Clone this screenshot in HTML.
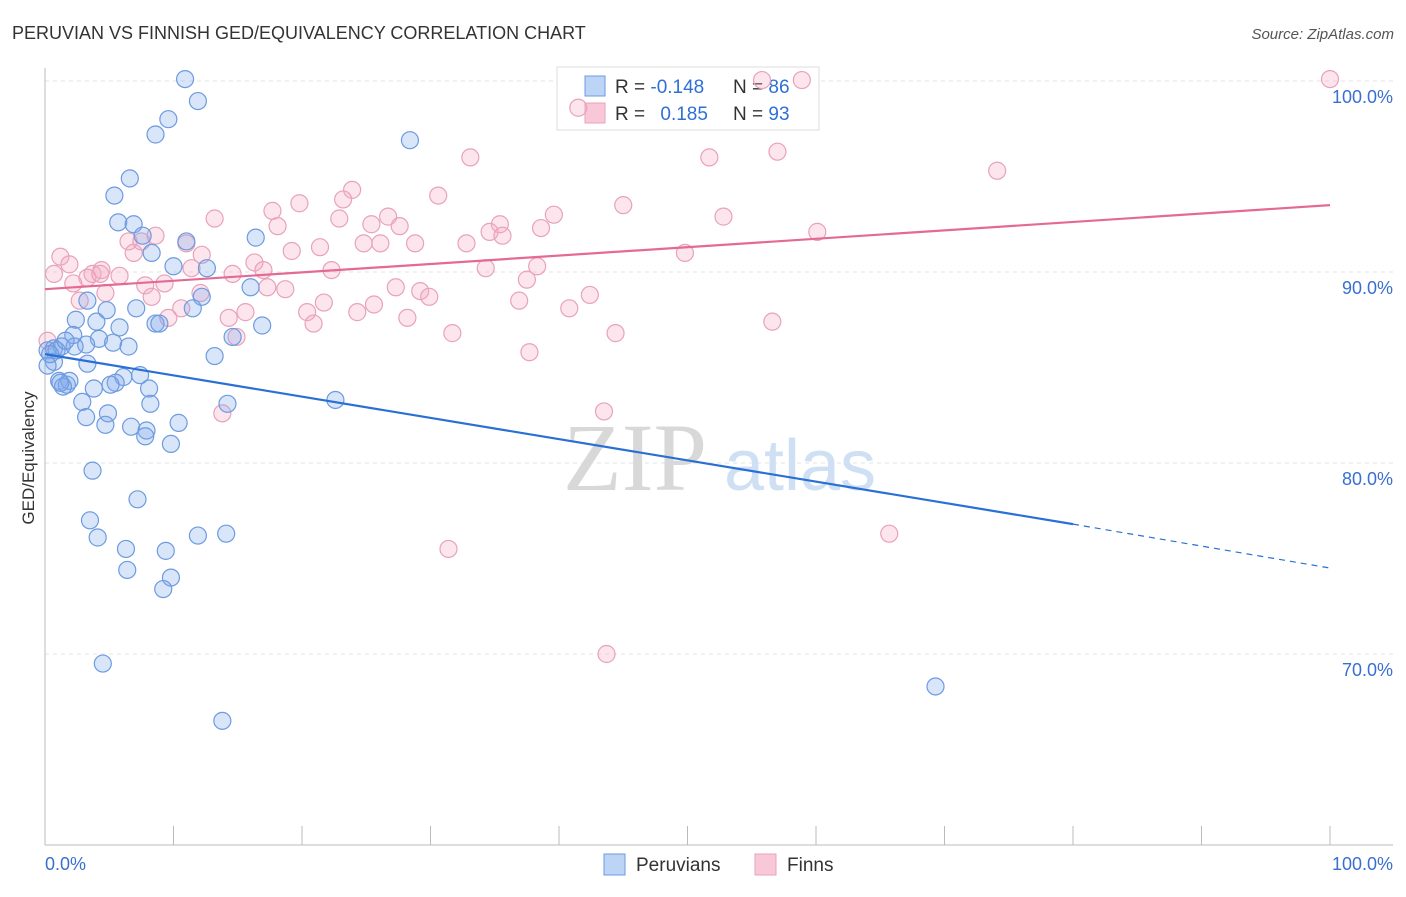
<!DOCTYPE html>
<html><head><meta charset="utf-8"><style>
body{margin:0;background:#fff;font-family:"Liberation Sans",sans-serif}
svg text{font-family:"Liberation Sans",sans-serif}
</style></head><body>
<svg width="1406" height="892" viewBox="0 0 1406 892">
<text x="12" y="39" font-size="18" fill="#333">PERUVIAN VS FINNISH GED/EQUIVALENCY CORRELATION CHART</text>
<text x="1394" y="39" font-size="15" fill="#555" text-anchor="end" font-style="italic">Source: ZipAtlas.com</text>
<g id="grid"></g>
<text x="635" y="490" font-size="96" fill="#d8d8d8" text-anchor="middle" font-family="Liberation Serif" style="font-family:'Liberation Serif',serif">ZIP</text>
<text x="800" y="490" font-size="72" fill="#cfe0f4" text-anchor="middle">atlas</text>
<g id="axes"></g>
<g>
<rect x="557" y="67" width="262" height="63" fill="#fff" stroke="#ddd"/>
<rect x="585" y="76" width="20" height="20" fill="#bcd4f6" stroke="#6d9be0"/>
<rect x="585" y="103" width="20" height="20" fill="#f9c8d8" stroke="#e9a0b8"/>
<text x="615" y="93" font-size="19" fill="#333">R = <tspan fill="#2f6fd6">-0.148</tspan></text>
<text x="733" y="93" font-size="19" fill="#333">N = <tspan fill="#2f6fd6">86</tspan></text>
<text x="615" y="120" font-size="19" fill="#333">R = <tspan fill="#2f6fd6" dx="10">0.185</tspan></text>
<text x="733" y="120" font-size="19" fill="#333">N = <tspan fill="#2f6fd6">93</tspan></text>
</g>
<g id="pts"></g>
<g id="trend"></g>
<text transform="translate(34,458) rotate(-90)" font-size="17" fill="#333" text-anchor="middle">GED/Equivalency</text>
<text x="45" y="870" font-size="18" fill="#3a6fd0">0.0%</text>
<text x="1393" y="870" font-size="18" fill="#3a6fd0" text-anchor="end">100.0%</text>
<g>
<rect x="604" y="854" width="21" height="21" fill="#bcd4f6" stroke="#6d9be0"/>
<text x="636" y="871" font-size="19" fill="#333">Peruvians</text>
<rect x="755" y="854" width="21" height="21" fill="#f9c8d8" stroke="#e9a0b8"/>
<text x="787" y="871" font-size="19" fill="#333">Finns</text>
</g>
</svg>
<script>
const yTicks=[100,90,80,70];
const yTickLabels=["100.0%","90.0%","80.0%","70.0%"];
const xTicks=[0,10,20,30,40,50,60,70,80,90,100];
const peruX=[10.9,11.9,9.6,8.6,28.4,6.6,5.4,5.7,6.9,7.6,16.4,11.0,8.3,10.0,12.6,16.0,12.2,3.3,7.1,4.8,11.5,2.4,4.0,8.6,8.9,5.8,16.9,2.2,14.6,4.2,3.2,5.3,6.5,0.7,1.3,0.2,13.2,0.7,3.3,0.2,6.1,7.4,5.5,5.1,1.1,1.7,1.9,1.4,3.8,8.1,22.6,2.9,8.2,4.9,3.2,10.4,14.2,6.7,4.7,7.9,7.8,9.8,3.7,7.2,3.5,4.1,6.3,11.9,14.1,9.4,6.4,9.8,9.2,4.5,13.8,69.3,0.9,0.4,2.3,1.6,1.2];
const peruY=[100.1,98.95,98.0,97.2,96.9,94.9,94.0,92.6,92.5,91.9,91.8,91.6,91.0,90.3,90.2,89.2,88.7,88.5,88.1,88.0,88.1,87.5,87.4,87.3,87.3,87.1,87.2,86.7,86.6,86.5,86.2,86.3,86.1,86.0,86.1,85.9,85.6,85.3,85.2,85.1,84.5,84.6,84.2,84.1,84.3,84.1,84.3,84.0,83.9,83.9,83.3,83.2,83.1,82.6,82.4,82.1,83.1,81.9,82.0,81.7,81.4,81.0,79.6,78.1,77.0,76.1,75.5,76.2,76.3,75.4,74.4,74.0,73.4,69.5,66.5,68.3,85.9,85.7,86.1,86.4,84.2];
const finnX=[58.9,55.8,100,41.5,33.1,51.7,57.0,74.1,23.9,30.6,23.2,19.8,45.0,17.7,39.6,13.2,26.7,22.9,25.4,27.6,35.4,52.8,38.6,60.1,18.1,34.6,8.6,6.5,35.6,11.0,32.8,28.8,24.8,26.1,19.2,21.4,6.9,12.2,1.2,49.8,1.9,16.3,38.3,17.0,11.4,34.3,14.6,0.7,3.7,4.4,5.8,22.3,3.3,37.5,2.2,9.3,18.7,17.3,27.3,7.8,29.2,29.9,4.7,12.1,42.4,8.3,2.7,21.7,36.9,40.8,25.6,20.4,24.3,10.6,28.2,9.6,20.9,14.3,15.6,56.6,44.4,31.7,14.9,0.2,37.7,43.5,13.8,31.4,65.7,43.7,4.3,7.5];
const finnY=[100.05,100.05,100.1,98.6,96.0,96.0,96.3,95.3,94.3,94.0,93.8,93.6,93.5,93.2,93.0,92.8,92.9,92.8,92.5,92.4,92.5,92.9,92.3,92.1,92.4,92.1,91.9,91.6,91.9,91.5,91.5,91.5,91.5,91.5,91.1,91.3,91.0,90.9,90.8,91.0,90.4,90.5,90.3,90.1,90.2,90.2,89.9,89.9,89.9,90.1,89.8,90.1,89.7,89.6,89.4,89.4,89.1,89.2,89.2,89.3,89.0,88.7,88.9,88.9,88.8,88.7,88.5,88.4,88.5,88.1,88.3,87.9,87.9,88.1,87.6,87.6,87.3,87.6,87.9,87.4,86.8,86.8,86.6,86.4,85.8,82.7,82.6,75.5,76.3,70.0,89.9,91.6];
const peruTrend=[[0,85.7],[80,76.8],[100,74.5]];
const finnTrend=[[0,89.1],[100,93.5]];
const NS="http://www.w3.org/2000/svg";
const sx=v=>45+v*12.85;
const sy=v=>81+(100-v)*19.1;
function mk(t,a,p){const e=document.createElementNS(NS,t);for(const k in a)e.setAttribute(k,a[k]);p.appendChild(e);return e;}
const grid=document.getElementById('grid');
yTicks.forEach((t,i)=>{
 const l=mk('line',{x1:45,x2:1393,y1:sy(t),y2:sy(t),stroke:'#e3e3e3','stroke-dasharray':'4,4'},grid);
 
 
 const tx=mk('text',{x:1393,y:sy(t)+22,'font-size':18,fill:'#3a6fd0','text-anchor':'end'},grid);
 tx.textContent=yTickLabels[i];
 
 
});
const axes=document.getElementById('axes');
mk('line',{x1:45,x2:45,y1:68,y2:845,stroke:'#bbb'},axes);
mk('line',{x1:45,x2:1393,y1:845,y2:845,stroke:'#bbb'},axes);
xTicks.forEach(t=>{
 const l=mk('line',{x1:sx(t),x2:sx(t),y1:826,y2:845,stroke:'#bbb'},axes);
 
 
});
const pts=document.getElementById('pts');
finnX.forEach((x,i)=>{
 const c=mk('circle',{cx:sx(x),cy:sy(finnY[i]),r:8.5,fill:'rgba(245,170,195,0.3)',stroke:'#e8a2ba','stroke-width':1.2},pts);
 
 
});
peruX.forEach((x,i)=>{
 const c=mk('circle',{cx:sx(x),cy:sy(peruY[i]),r:8.5,fill:'rgba(130,170,235,0.3)',stroke:'#6c9be0','stroke-width':1.2},pts);
 
 
});
const tr=document.getElementById('trend');
const a=mk('line',{x1:sx(peruTrend[0][0]),y1:sy(peruTrend[0][1]),x2:sx(peruTrend[1][0]),y2:sy(peruTrend[1][1]),stroke:'#2a6fd6','stroke-width':2.2},tr);


const b=mk('line',{x1:sx(peruTrend[1][0]),y1:sy(peruTrend[1][1]),x2:sx(peruTrend[2][0]),y2:sy(peruTrend[2][1]),stroke:'#2a6fd6','stroke-width':1.2,'stroke-dasharray':'6,5'},tr);


const f=mk('line',{x1:sx(finnTrend[0][0]),y1:sy(finnTrend[0][1]),x2:sx(finnTrend[1][0]),y2:sy(finnTrend[1][1]),stroke:'#e46a95','stroke-width':2.2},tr);


</script>
</body></html>
